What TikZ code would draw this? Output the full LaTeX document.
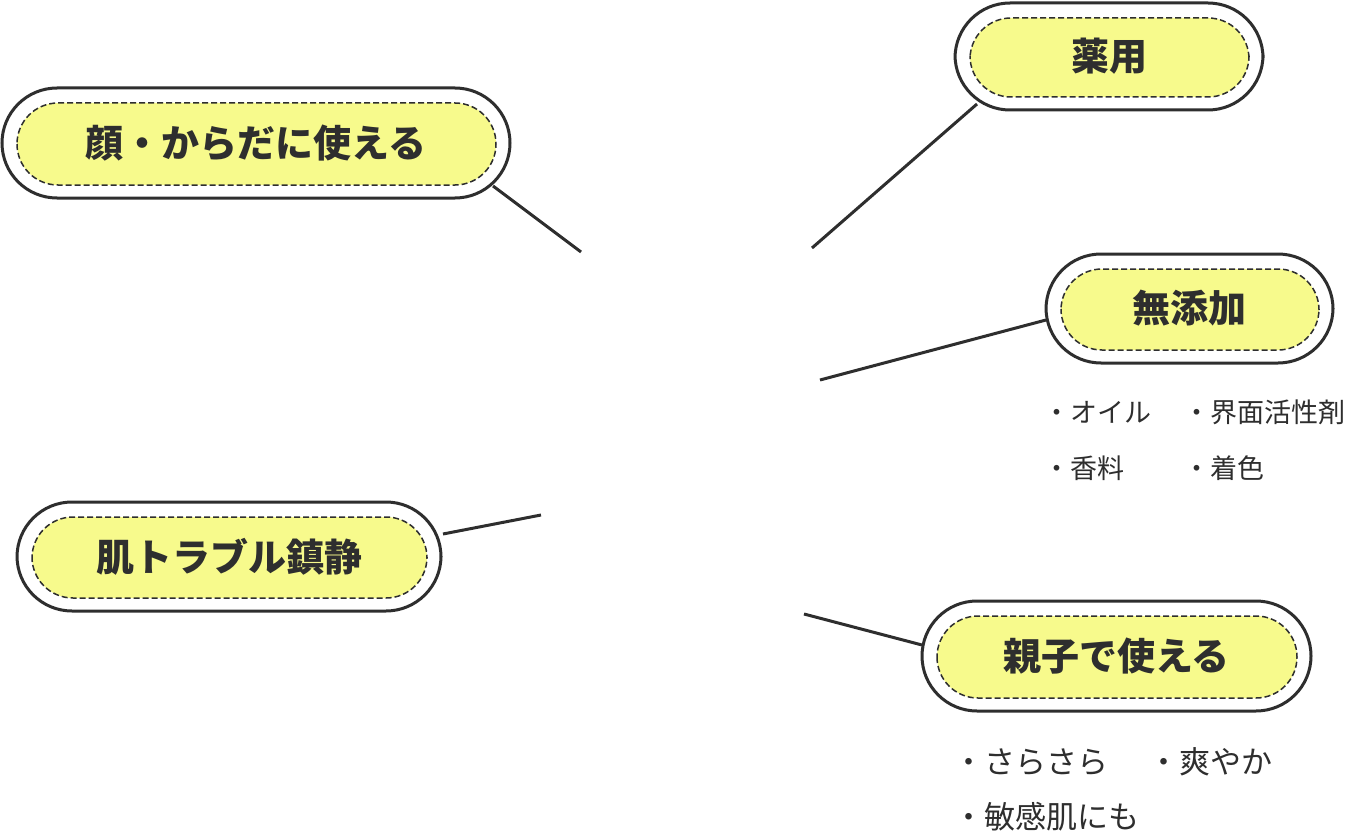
\documentclass[tikz,border=0pt]{standalone}
\usepackage{fontspec}
\setmainfont{Noto Sans CJK JP}
\definecolor{dk}{HTML}{2E2E2E}
\definecolor{yl}{HTML}{F7FA8C}
\tikzset{
 outer/.style={draw=dk,line width=3pt,fill=white,rounded corners=55pt},
 inner/.style={draw=dk,line width=1.5pt,dashed,dash pattern=on 6pt off 3pt,fill=yl,rounded corners=41pt},
 lab/.style={font=\fontsize{38}{44}\selectfont\bfseries,text=dk},
 sm/.style={font=\fontsize{27}{32}\selectfont,text=dk,anchor=west},
 sm2/.style={font=\fontsize{31}{36}\selectfont,text=dk,anchor=west},
 ln/.style={draw=dk,line width=3pt}
}
\newcommand{\pill}[6]{%
 \draw[outer] (#1,-#3) rectangle (#2,-#4);
 \draw[inner] (#1+15,-#3-15) rectangle (#2-14,-#4+13);
 \node[lab] (#5) at ({(#1+#2)/2},{-(#3+#4)/2}) {#6};}
\begin{document}
\begin{tikzpicture}[x=1pt,y=1pt]
\useasboundingbox (0,0) rectangle (1352,-840);
\coordinate (c1) at (581,-252);
\coordinate (c2) at (812,-248);
\coordinate (c3) at (820,-380);
\coordinate (c4) at (541,-515);
\coordinate (c5) at (804,-614);
\coordinate (e1) at (493,-186);
\coordinate (e2) at (977,-104);
\coordinate (e3) at (1046,-320);
\coordinate (e4) at (443,-534);
\coordinate (e5) at (922,-645);
\draw[ln] (e1)--(c1);
\draw[ln] (e2)--(c2);
\draw[ln] (e3)--(c3);
\draw[ln] (e4)--(c4);
\draw[ln] (e5)--(c5);
\pill{2}{510}{88}{198}{a}{顔・からだに使える}
\pill{955}{1263}{3}{110}{b}{薬用}
\pill{1046}{1333}{254}{363}{c}{無添加}
\pill{17}{441}{502}{611}{d}{肌トラブル鎮静}
\pill{922}{1311}{601}{711}{e}{親子で使える}
\node[sm] (s1) at (1040,-412) {・オイル};
\node[sm] (s2) at (1180,-412) {・界面活性剤};
\node[sm] (s3) at (1040,-468) {・香料};
\node[sm] (s4) at (1180,-468) {・着色};
\node[sm2] (s5) at (950,-762) {・さらさら};
\node[sm2] (s6) at (1145,-762) {・爽やか};
\node[sm2] (s7) at (950,-817) {・敏感肌にも};
\end{tikzpicture}
\end{document}
